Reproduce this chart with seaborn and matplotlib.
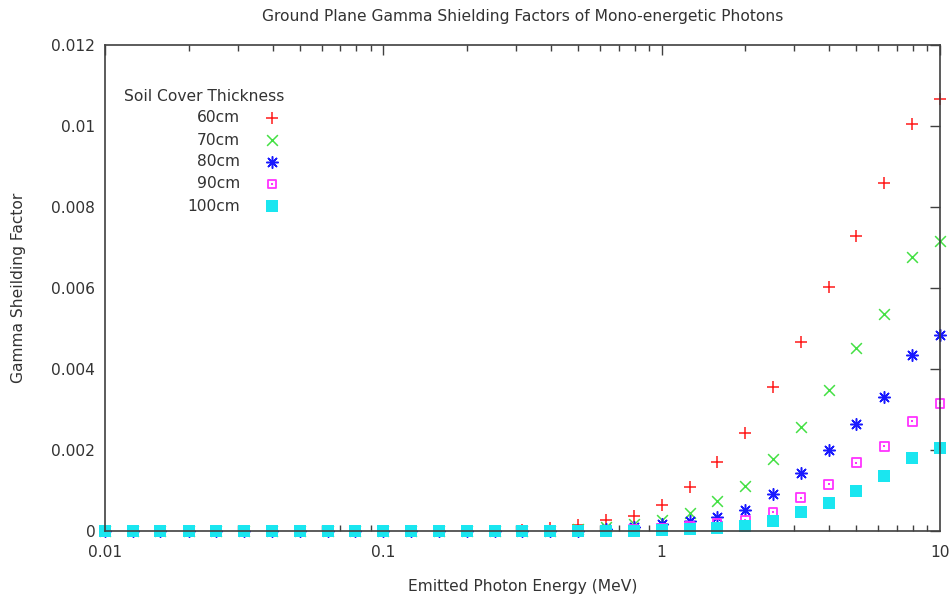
import matplotlib
matplotlib.use("Agg")
import matplotlib.pyplot as plt
from matplotlib.ticker import FixedLocator, LogLocator, NullFormatter, FixedFormatter
import seaborn as sns
import pandas as pd

# Emitted photon energies (MeV), ten per decade
energy = [0.01, 0.0126, 0.0158, 0.02, 0.0251, 0.0316, 0.0398, 0.0501, 0.0631, 0.0794,
          0.1, 0.126, 0.158, 0.2, 0.251, 0.316, 0.398, 0.501, 0.631, 0.794,
          1.0, 1.26, 1.58, 2.0, 2.51, 3.16, 3.98, 5.01, 6.31, 7.94, 10.0]

# Gamma shielding factors for each soil cover thickness
sf_60 = [0] * 15 + [0.00003, 0.00007, 0.00016, 0.00026, 0.00038, 0.00065, 0.00109, 0.00170,
                    0.00241, 0.00355, 0.00467, 0.00603, 0.00729, 0.00860, 0.01005, 0.01066]
sf_70 = [0] * 17 + [0.00004, 0.00009, 0.00018, 0.00028, 0.00045, 0.00075, 0.00112,
                    0.00179, 0.00257, 0.00349, 0.00451, 0.00535, 0.00677, 0.00717]
sf_80 = [0] * 18 + [0.00004, 0.00009, 0.00017, 0.00025, 0.00035, 0.00051, 0.00091,
                    0.00142, 0.00199, 0.00264, 0.00331, 0.00434, 0.00485]
sf_90 = [0] * 19 + [0.00004, 0.00007, 0.00012, 0.00018, 0.00026, 0.00047, 0.00082,
                    0.00115, 0.00169, 0.00209, 0.00271, 0.00315]
sf_100 = [0] * 20 + [0.00002, 0.00004, 0.00007, 0.00013, 0.00024, 0.00047, 0.00070,
                     0.00098, 0.00135, 0.00180, 0.00206]

thickness = ["60cm", "70cm", "80cm", "90cm", "100cm"]
series = [sf_60, sf_70, sf_80, sf_90, sf_100]

y_ticks = [0, 0.002, 0.004, 0.006, 0.008, 0.01, 0.012]
y_tick_labels = ["0", "0.002", "0.004", "0.006", "0.008", "0.01", "0.012"]
x_ticks = [0.01, 0.1, 1, 10]
x_tick_labels = ["0.01", "0.1", "1", "10"]

sns.set_style("white")
plt.rcParams["font.family"] = ["DejaVu Sans"]
text_color = "#333333"
axis_color = "#404040"
fs = 11.2

# Marker styles per series: (marker, colour, size, filled)
styles = [
    ("+", "#ff1a1a", 80, False),
    ("x", "#44e044", 60, False),
    ((8, 2, 0), "#1a1aff", 70, False),
    ("s", "#ff33ff", 40, False),
    ("s", "#1ae6f0", 76, True),
]

fig = plt.figure(figsize=(9.53, 6.01), dpi=100)
ax = fig.add_axes([105 / 953, 1 - 531 / 601, 835 / 953, 486 / 601])

frames = []
for name, vals in zip(thickness, series):
    frames.append(pd.DataFrame({"energy": energy, "factor": vals, "thickness": name}))
df = pd.concat(frames, ignore_index=True)


def draw_points(target, x, y, mk, col, sz, filled, **kw):
    if filled:
        target.scatter(x, y, marker=mk, color=col, s=sz, linewidth=0, clip_on=False, **kw)
    elif mk == "s":
        target.scatter(x, y, marker=mk, s=sz, facecolor="none", edgecolor=col,
                       linewidth=1.3, clip_on=False, **kw)
        target.scatter(x, y, marker="s", s=2, color=col, linewidth=0, clip_on=False, **kw)
    else:
        target.scatter(x, y, marker=mk, color=col, s=sz, linewidth=1.1, clip_on=False, **kw)


for name, (mk, col, sz, filled) in zip(thickness, styles):
    sub = df[df["thickness"] == name]
    if filled:
        sns.scatterplot(data=sub, x="energy", y="factor", marker=mk, color=col, s=sz,
                        linewidth=0, ax=ax, legend=False, clip_on=False)
    elif mk == "s":
        sns.scatterplot(data=sub, x="energy", y="factor", marker=mk, s=sz,
                        facecolor="none", edgecolor=col, linewidth=1.3,
                        ax=ax, legend=False, clip_on=False)
        sns.scatterplot(data=sub, x="energy", y="factor", marker="s", s=2,
                        color=col, linewidth=0, ax=ax, legend=False, clip_on=False)
    else:
        sns.scatterplot(data=sub, x="energy", y="factor", marker=mk, color=col, s=sz,
                        linewidth=1.1, ax=ax, legend=False, clip_on=False)

ax.set_xscale("log")
ax.set_xlim(0.01, 10)
ax.set_ylim(0, 0.012)

ax.xaxis.set_major_locator(FixedLocator(x_ticks))
ax.xaxis.set_major_formatter(FixedFormatter(x_tick_labels))
ax.xaxis.set_minor_locator(LogLocator(base=10, subs=range(2, 10)))
ax.xaxis.set_minor_formatter(NullFormatter())
ax.yaxis.set_major_locator(FixedLocator(y_ticks))
ax.yaxis.set_major_formatter(FixedFormatter(y_tick_labels))

ax.tick_params(axis="both", which="major", direction="in", length=7, width=1.0,
               color=axis_color, top=True, right=True, labelsize=fs,
               labelcolor=text_color)
ax.tick_params(axis="y", which="major", pad=7)
ax.tick_params(axis="x", which="major", pad=10)
ax.tick_params(axis="x", which="minor", direction="in", length=4, width=1.0,
               color=axis_color, top=True, bottom=True)
for sp in ax.spines.values():
    sp.set_visible(True)
    sp.set_color(axis_color)
    sp.set_linewidth(1.2)

ax.set_xlabel("Emitted Photon Energy (MeV)", fontsize=fs, color=text_color)
ax.xaxis.set_label_coords(0.5, -56 / 486)
ax.set_ylabel("Gamma Sheilding Factor", fontsize=fs, color=text_color)
ax.yaxis.set_label_coords(-86 / 835, 0.5)
ax.yaxis.label.set_va("center")
ax.xaxis.label.set_va("center")
ax.set_title("Ground Plane Gamma Shielding Factors of Mono-energetic Photons",
             fontsize=fs, color=text_color, pad=17)

# Key box in the upper-left corner
ax.text(0.0228, 0.895, "Soil Cover Thickness", transform=ax.transAxes,
        ha="left", va="center", fontsize=fs, color=text_color)
row_y = [0.8498, 0.8045, 0.7593, 0.714, 0.6687]
for name, (mk, col, sz, filled), yy in zip(thickness, styles, row_y):
    ax.text(0.1617, yy, name, transform=ax.transAxes, ha="right", va="center",
            fontsize=fs, color=text_color)
    draw_points(ax, [0.2], [yy], mk, col, sz, filled, transform=ax.transAxes)

fig.savefig("out.png", dpi=100)
